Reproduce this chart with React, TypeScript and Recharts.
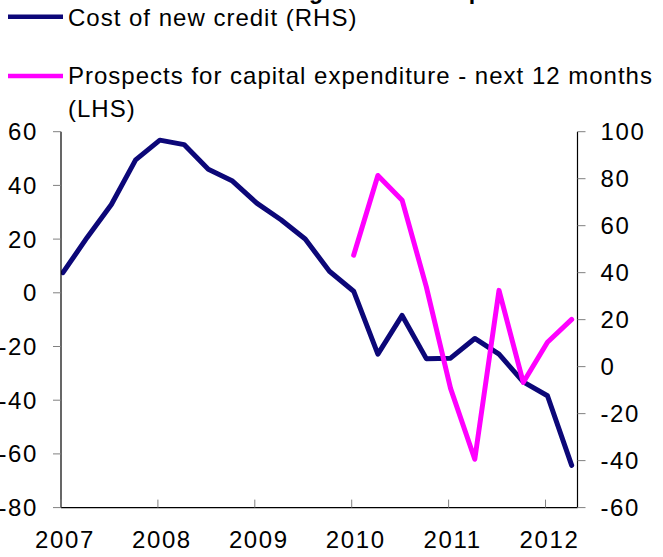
import { LineChart, Line, XAxis, YAxis } from "recharts";

// quarterly observations, 2007 Q1 .. 2012 Q2
const quarters = [
  2007.02, 2007.27, 2007.52, 2007.77, 2008.02, 2008.27, 2008.52, 2008.77, 2009.02, 2009.27,
  2009.52, 2009.77, 2010.02, 2010.27, 2010.52, 2010.77, 2011.02, 2011.27, 2011.52, 2011.77,
  2012.02, 2012.27,
];

// Cost of new credit, net balance (right-hand scale)
const costOfNewCredit = [
  40, 55, 69, 88, 96.4, 94.5, 84, 79, 69.6, 62.5, 54.3, 40.6, 32.1, 5.3, 21.8, 3.4, 3.6, 12,
  5.3, -6.5, -12.4, -42,
];

// Prospects for capital expenditure, next 12 months (left-hand scale)
const capexProspects = [
  null, null, null, null, null, null, null, null, null, null, null, null, 14, 43.7, 34.5, 2.2,
  -35.6, -62, 0.9, -33.4, -18.4, -9.9,
];

const yearTicks = [2007, 2008, 2009, 2010, 2011, 2012];
const leftTicks = [-80, -60, -40, -20, 0, 20, 40, 60];
const rightTicks = [-60, -40, -20, 0, 20, 40, 60, 80, 100];

const NAVY = "#0c0778";
const MAGENTA = "#ff00ff";
const FONT = "'Liberation Sans', Arial, sans-serif";

const series = [
  { key: "credit", name: "Cost of new credit (RHS)", color: NAVY, axis: "right" },
  {
    key: "capex",
    name: "Prospects for capital expenditure - next 12 months (LHS)",
    color: MAGENTA,
    axis: "left",
  },
];

const data = quarters.map((q, i) => ({
  date: q,
  credit: costOfNewCredit[i],
  capex: capexProspects[i],
}));

const tickText = { fontSize: 24, fill: "#000", fontFamily: FONT, letterSpacing: 1.6 };

function YearTick({ x, y, payload }: any) {
  return (
    <g>
      <line x1={x} x2={x} y1={y} y2={y - 8} stroke="#808080" />
      <text x={x + 4} y={y + 40} textAnchor="middle" {...tickText}>
        {payload.value}
      </text>
    </g>
  );
}

function Legendish() {
  return (
    <svg
      width={663}
      height={125}
      style={{ position: "absolute", left: 0, top: 0, overflow: "hidden", pointerEvents: "none" }}
    >
      <text x={208} y={-1} fontSize={23} fontWeight="bold" fontFamily={FONT}>
        Borrowing costs and capex
      </text>
      <line x1={8} x2={63} y1={16.7} y2={16.7} stroke={series[0].color} strokeWidth={4.5} />
      <text x={68} y={25.7} fontSize={24} fontFamily={FONT} letterSpacing={1}>
        {series[0].name}
      </text>
      <line x1={8} x2={63} y1={76} y2={76} stroke={series[1].color} strokeWidth={4.5} />
      <text x={68} y={84} fontSize={24} fontFamily={FONT} letterSpacing={1}>
        Prospects for capital expenditure - next 12 months
      </text>
      <text x={68} y={116.7} fontSize={24} fontFamily={FONT} letterSpacing={1}>
        (LHS)
      </text>
    </svg>
  );
}

export default function App() {
  return (
    <div
      style={{
        position: "absolute",
        left: 0,
        top: 0,
        width: 663,
        height: 557,
        background: "#fff",
      }}
    >
      <LineChart
        width={663}
        height={557}
        data={data}
        margin={{ top: 131.7, right: 5.5, bottom: 4.4, left: 6 }}
      >
        <XAxis
          dataKey="date"
          type="number"
          domain={[2007, 2012.33]}
          ticks={yearTicks}
          allowDataOverflow
          height={45}
          tickSize={0}
          tickMargin={0}
          tick={<YearTick />}
          axisLine={{ stroke: "#000", strokeWidth: 1.2 }}
        />
        <YAxis
          yAxisId="left"
          orientation="left"
          domain={[-80, 60]}
          ticks={leftTicks}
          width={55}
          tickSize={8}
          tickMargin={15}
          tickLine={{ stroke: "#808080" }}
          axisLine={{ stroke: "#000", strokeWidth: 1.2 }}
          tick={tickText}
          allowDataOverflow
        />
        <YAxis
          yAxisId="right"
          orientation="right"
          domain={[-60, 100]}
          ticks={rightTicks}
          width={80}
          tickSize={8}
          tickMargin={15}
          tickLine={{ stroke: "#808080" }}
          axisLine={{ stroke: "#000", strokeWidth: 1.2 }}
          tick={{ ...tickText, textAnchor: "start" }}
          allowDataOverflow
        />
        {series.map((s) => (
          <Line
            key={s.key}
            dataKey={s.key}
            name={s.name}
            yAxisId={s.axis}
            type="linear"
            stroke={s.color}
            strokeWidth={5}
            strokeLinejoin="round"
            strokeLinecap="round"
            dot={false}
            activeDot={false}
            isAnimationActive={false}
          />
        ))}
      </LineChart>
      <Legendish />
    </div>
  );
}
